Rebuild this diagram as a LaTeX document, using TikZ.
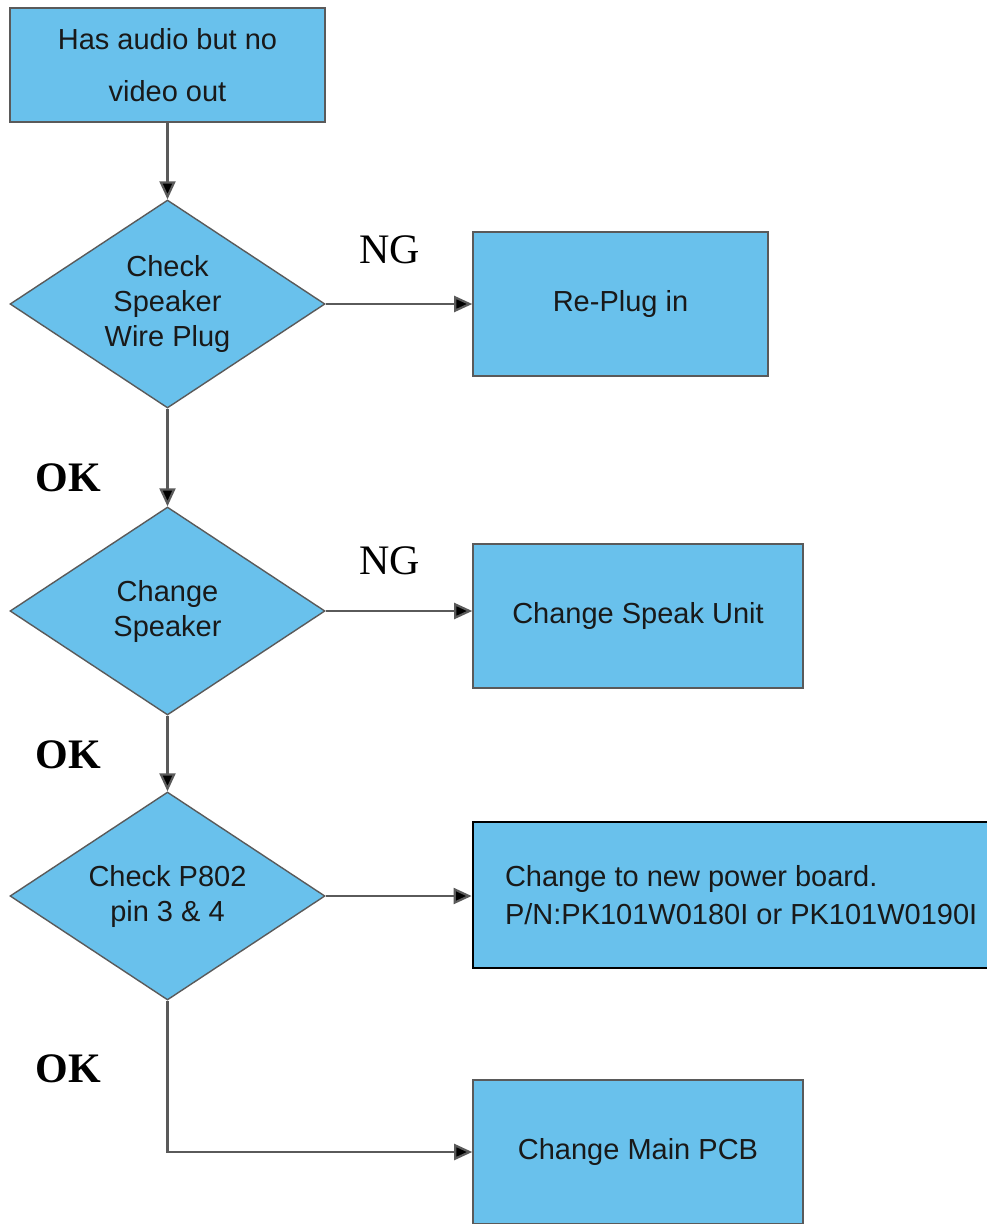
\documentclass[tikz,border=0pt]{standalone}
\usepackage{fontspec}
\setmainfont{Liberation Serif}
\newfontfamily\boxfont{Liberation Sans}
\usetikzlibrary{shapes.geometric,arrows.meta}
\definecolor{boxblue}{RGB}{105,193,236}
\definecolor{edgegray}{RGB}{90,90,90}
\definecolor{inkgray}{RGB}{25,25,25}
\begin{document}
\begin{tikzpicture}[x=1pt,y=-1pt,
  every node/.style={inner sep=0pt},
  procbox/.style={rectangle, draw=edgegray, line width=1.6pt, fill=boxblue,
    text=inkgray, font=\boxfont\fontsize{29}{35}\selectfont, align=center},
  decision/.style={diamond, draw=edgegray, line width=1.4pt, fill=boxblue,
    minimum width=315pt, minimum height=208pt, aspect=1.514,
    text=inkgray, font=\boxfont\fontsize{29}{35}\selectfont, align=center},
  flow/.style={draw=edgegray, line width=2.2pt,
    -{Triangle[length=18pt,width=16pt,fill=black]}},
  nglabel/.style={font=\fontsize{42}{42}\selectfont, text=black},
  oklabel/.style={font=\bfseries\fontsize{42}{42}\selectfont, text=black}]
\clip (0,0) rectangle (987,1224);
\fill[white] (0,0) rectangle (987,1224);

% process boxes
\node[procbox, minimum width=315pt, minimum height=114pt,
      font=\boxfont\fontsize{29}{52}\selectfont]
  (start) at (167.5,65) {Has audio but no\\video out};
\node[procbox, minimum width=295pt, minimum height=144pt]
  (replug) at (620.5,304) {Re-Plug in};
\node[procbox, minimum width=330pt, minimum height=144pt]
  (speakunit) at (638,616) {Change Speak Unit};
% this box runs past the right edge of the page
\node[procbox, draw=black, line width=2.8pt, minimum width=564pt, minimum height=146pt,
      text width=500pt, align=flush left, font=\boxfont\fontsize{29}{38}\selectfont,
      inner xsep=32pt]
  (power) at (755,895) {Change to new power board.\\P/N:PK101W0180I or PK101W0190I};
\node[procbox, minimum width=330pt, minimum height=144pt]
  (pcb) at (638,1152) {Change Main PCB};

% decisions
\node[decision] (plug) at (167.5,304) {Check\\Speaker\\Wire Plug};
\node[decision] (speaker) at (167.5,611) {Change\\Speaker};
\node[decision] (p802) at (167.5,896) {Check P802\\pin 3 \& 4};

% connectors
\draw[flow] (start.south) -- (plug.north);
\draw[flow] (plug.east) -- (plug.east -| replug.west);
\draw[flow] (plug.south) -- (speaker.north);
\draw[flow] (speaker.east) -- (speaker.east -| speakunit.west);
\draw[flow] (speaker.south) -- (p802.north);
\draw[flow] (p802.east) -- (p802.east -| power.west);
\draw[flow] (p802.south) |- (pcb.west);

% branch labels
\node[nglabel] (ng1) at (390,250) {NG};
\node[nglabel] (ng2) at (390,561) {NG};
\node[oklabel] (ok1) at (68,478) {OK};
\node[oklabel] (ok2) at (68,755) {OK};
\node[oklabel] (ok3) at (68,1069) {OK};
\end{tikzpicture}
\end{document}
